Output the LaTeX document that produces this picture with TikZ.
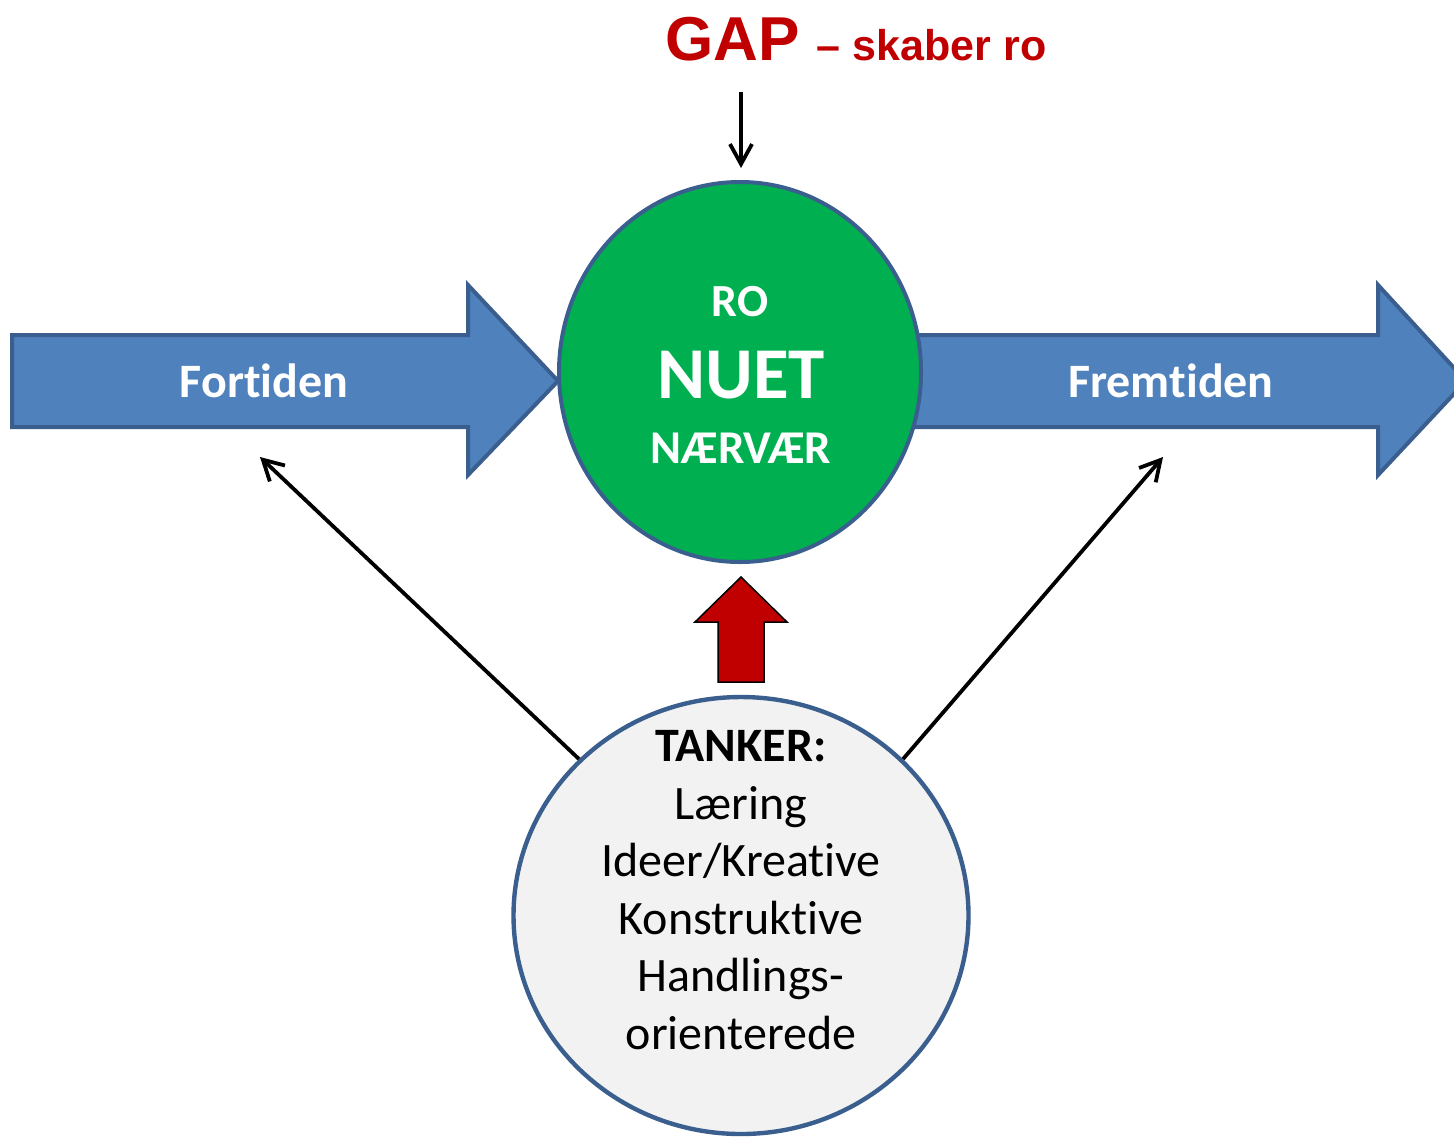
\documentclass[tikz,border=0pt]{standalone}
\usepackage{fontspec}
\setmainfont{Carlito}[Ligatures=NoCommon]
\newfontfamily\arialfont{Liberation Sans}
\usetikzlibrary{shapes.geometric,arrows.meta}
\begin{document}
\begin{tikzpicture}[x=0.5pt,y=-0.5pt,
  timearrow/.style={fill=timeblue,draw=timeedge,line width=2pt,line join=miter},
  timelabel/.style={anchor=base,inner sep=0pt,text=white,font=\fontsize{24}{29}\selectfont\bfseries},
  nowtext/.style={anchor=base,inner sep=0pt,text=white,font=\bfseries},
  thinkarrow/.style={line width=1.9pt,-{Straight Barb[length=10pt,width=11pt]}}]
\definecolor{timeblue}{HTML}{4F81BD}
\definecolor{timeedge}{HTML}{3A5F8E}
\definecolor{nowgreen}{HTML}{00B050}
\definecolor{gapred}{HTML}{C00000}
\definecolor{thoughtgrey}{HTML}{F2F2F2}
\useasboundingbox (0,0) rectangle (1454,1136);
\clip (0,0) rectangle (1454,1136);
% tidslinjen
\draw[timearrow] (880,335) -- (1378,335) -- (1378,285) -- (1466,381) -- (1378,475) -- (1378,427) -- (880,427) -- cycle;
\draw[timearrow] (12,335) -- (468,335) -- (468,285) -- (558,381) -- (468,475) -- (468,427) -- (12,427) -- cycle;
\node[timelabel] (fortid) at (264,397) {Fortiden};
\node[timelabel] (fremtid) at (1171,397) {Fremtiden};
% nuet
\node[ellipse,minimum width=181pt,minimum height=190pt,inner sep=0pt,fill=nowgreen,draw=timeedge,line width=2pt] (nuet) at (740,372) {};
\node[nowtext,font=\fontsize{23}{28}\selectfont\bfseries] (ro) at (740,316) {RO};
\node[nowtext,font=\fontsize{36.5}{44}\selectfont\bfseries] (nu) at (741,398) {NUET};
\node[nowtext,font=\fontsize{23.5}{28}\selectfont\bfseries] (naervaer) at (741,463) {NÆRVÆR};
% gap
\node[anchor=base west,inner sep=0pt,text=gapred,font=\arialfont\bfseries] (gap) at (665,60) {\fontsize{31}{36}\selectfont GAP \fontsize{21.5}{25}\selectfont – skaber ro};
\coordinate (gapfoot) at (741,92);
\coordinate (nuettop) at (741,168);
\draw[thinkarrow] (gapfoot) -- (nuettop);
% tanker
\draw[fill=gapred,draw=black,line width=0.75pt,line join=miter] (718,682) -- (718,622) -- (695,622) -- (741,577) -- (787,622) -- (764,622) -- (764,682) -- cycle;
\node[ellipse,minimum width=227.5pt,minimum height=218.5pt,inner sep=0pt,fill=thoughtgrey,draw=timeedge,line width=2.2pt] (tanker) at (741,915.5) {};
\node[anchor=north,inner sep=0pt,align=center,font=\fontsize{24}{28.75}\selectfont] (tankerlist) at (741,730) {\textbf{TANKER:}\\Læring\\Ideer/Kreative\\Konstruktive\\Handlings-\\orienterede};
\coordinate (fortidpoint) at (260,457);
\coordinate (fremtidpoint) at (1163,457);
\draw[thinkarrow] (tanker.136) -- (fortidpoint);
\draw[thinkarrow] (tanker.44) -- (fremtidpoint);
\end{tikzpicture}
\end{document}
